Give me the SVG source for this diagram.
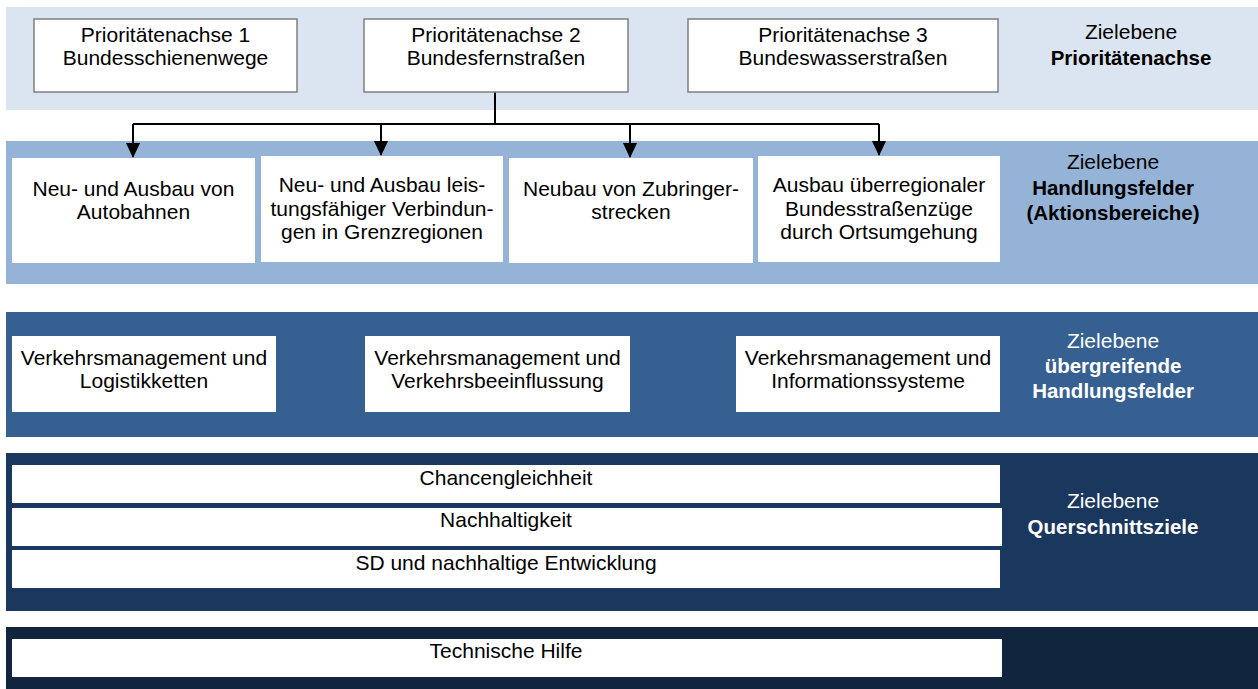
<svg xmlns="http://www.w3.org/2000/svg" width="1258" height="689" viewBox="0 0 1258 689">
<style>
text{font-family:"Liberation Sans",Arial,sans-serif;font-size:21px;text-anchor:middle;fill:#000}
.b{font-weight:bold;font-size:20.5px}
.w{fill:#fff}
.box{fill:#fff}
.gbox{fill:#fff;stroke:#7f7f7f;stroke-width:1.5}
.con{fill:none;stroke:#000;stroke-width:2}
</style>
<defs>
<marker id="ah" markerUnits="userSpaceOnUse" markerWidth="16" markerHeight="16" refX="14" refY="7" orient="auto">
<path d="M0,0 L15,7 L0,14 Z" fill="#000"/>
</marker>
</defs>
<g id="bands">
<rect x="6" y="7" width="1252" height="103" fill="#dbe5f1"/>
<rect x="6" y="141" width="1252" height="143" fill="#95b3d7"/>
<rect x="6" y="312" width="1252" height="125" fill="#366092"/>
<rect x="6" y="453" width="1252" height="158" fill="#1a375e"/>
<rect x="6" y="627" width="1252" height="62" fill="#12253f"/>
</g>
<g id="connectors">
<path class="con" d="M495,92 V124 M133,124 H879"/>
<path class="con" d="M133,124 V157" marker-end="url(#ah)"/>
<path class="con" d="M381,124 V155" marker-end="url(#ah)"/>
<path class="con" d="M630,124 V157" marker-end="url(#ah)"/>
<path class="con" d="M879,124 V155" marker-end="url(#ah)"/>
</g>
<g id="pa1"><rect class="gbox" x="34" y="19" width="263" height="73"/>
<text x="165.5" y="42">Prioritätenachse 1</text>
<text x="165.5" y="65">Bundesschienenwege</text></g>
<g id="pa2"><rect class="gbox" x="364" y="19" width="264" height="73"/>
<text x="496" y="42">Prioritätenachse 2</text>
<text x="496" y="65">Bundesfernstraßen</text></g>
<g id="pa3"><rect class="gbox" x="688" y="19" width="310" height="73"/>
<text x="843" y="42">Prioritätenachse 3</text>
<text x="843" y="65">Bundeswasserstraßen</text></g>
<g id="lbl1">
<text x="1131" y="39">Zielebene</text>
<text class="b" x="1131" y="65">Prioritätenachse</text></g>

<g id="hf1"><rect class="box" x="12" y="158" width="243" height="105"/>
<text x="133.5" y="196">Neu- und Ausbau von</text>
<text x="133.5" y="219">Autobahnen</text></g>
<g id="hf2"><rect class="box" x="261" y="156" width="242" height="106"/>
<text x="382" y="192">Neu- und Ausbau leis-</text>
<text x="382" y="215.5">tungsfähiger Verbindun-</text>
<text x="382" y="239">gen in Grenzregionen</text></g>
<g id="hf3"><rect class="box" x="509" y="158" width="244" height="105"/>
<text x="631" y="196">Neubau von Zubringer-</text>
<text x="631" y="219">strecken</text></g>
<g id="hf4"><rect class="box" x="758" y="156" width="242" height="106"/>
<text x="879" y="192">Ausbau überregionaler</text>
<text x="879" y="215.5">Bundesstraßenzüge</text>
<text x="879" y="239">durch Ortsumgehung</text></g>
<g id="lbl2">
<text x="1113" y="169">Zielebene</text>
<text class="b" x="1113" y="195">Handlungsfelder</text>
<text class="b" x="1113" y="220">(Aktionsbereiche)</text></g>

<g id="uh1"><rect class="box" x="12" y="336" width="264" height="76"/>
<text x="144" y="365">Verkehrsmanagement und</text>
<text x="144" y="388">Logistikketten</text></g>
<g id="uh2"><rect class="box" x="365" y="336" width="265" height="76"/>
<text x="497.5" y="365">Verkehrsmanagement und</text>
<text x="497.5" y="388">Verkehrsbeeinflussung</text></g>
<g id="uh3"><rect class="box" x="736" y="336" width="264" height="76"/>
<text x="868" y="365">Verkehrsmanagement und</text>
<text x="868" y="388">Informationssysteme</text></g>
<g id="lbl3">
<text class="w" x="1113" y="348">Zielebene</text>
<text class="b w" x="1113" y="373">übergreifende</text>
<text class="b w" x="1113" y="398">Handlungsfelder</text></g>

<g id="qz1"><rect class="box" x="12" y="465" width="988" height="38"/>
<text x="506" y="485">Chancengleichheit</text></g>
<g id="qz2"><rect class="box" x="12" y="508" width="990" height="38"/>
<text x="506" y="527">Nachhaltigkeit</text></g>
<g id="qz3"><rect class="box" x="12" y="550" width="988" height="38"/>
<text x="506" y="570">SD und nachhaltige Entwicklung</text></g>
<g id="lbl4">
<text class="w" x="1113" y="508">Zielebene</text>
<text class="b w" x="1113" y="534">Querschnittsziele</text></g>

<g id="th"><rect class="box" x="12" y="639" width="990" height="38"/>
<text x="506" y="658">Technische Hilfe</text></g>
</svg>
